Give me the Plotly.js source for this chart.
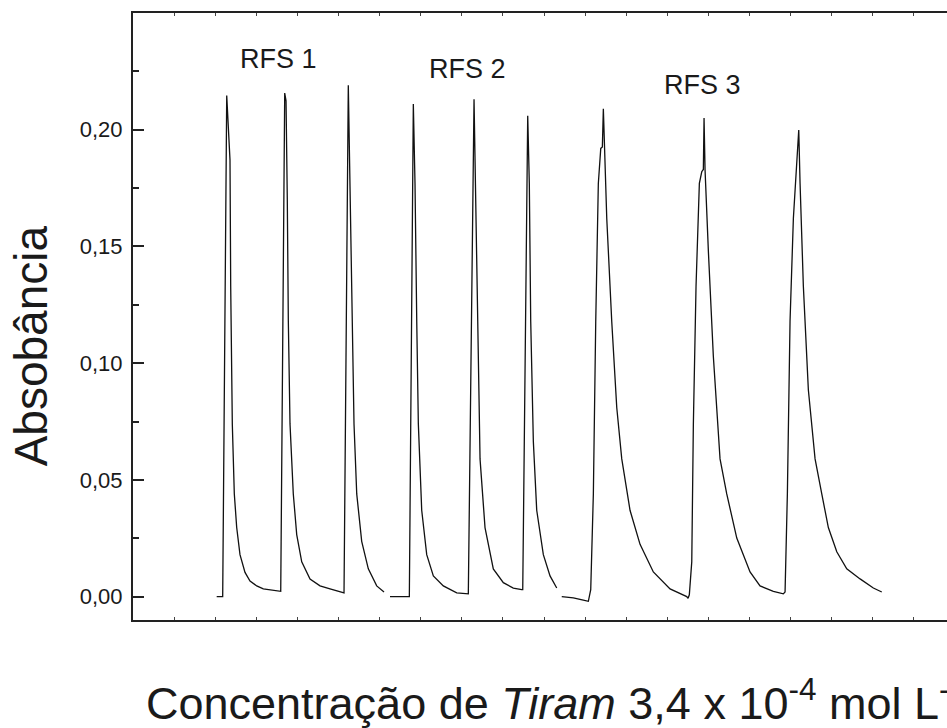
<!DOCTYPE html>
<html>
<head>
<meta charset="utf-8">
<script src="https://cdn.plot.ly/plotly-3.0.1.min.js"></script>
<style>
html,body{margin:0;padding:0;overflow:hidden;background:#fff;}
#chart{width:990px;height:728px;}
</style>
</head>
<body>
<div id="chart"></div>
<script>
// Time axis (arbitrary units, one minor tick = 10) and absorbance
const rfs1Time = [20.36, 21.82, 22.80, 23.43, 23.60, 23.77, 24.16, 24.65, 25.23, 26.03, 27.25, 28.47, 30.10, 31.70, 33.33, 35.77,
                  35.94, 36.91, 37.23, 37.54, 37.79, 38.20, 39.00, 39.83, 41.05, 43.07, 45.50, 47.93, 51.17,
                  51.34, 52.38, 52.80, 53.21, 53.77, 54.43, 55.64, 57.25, 59.29, 61.07];
const rfs1Abs  = [0.000, 0.000, 0.2147, 0.1885, 0.187, 0.133, 0.074, 0.044, 0.0296, 0.018, 0.0104, 0.0067, 0.0046, 0.0033, 0.0028, 0.0023,
                  0.0023, 0.2157, 0.2124, 0.170, 0.118, 0.074, 0.044, 0.0266, 0.0149, 0.0075, 0.0046, 0.0033, 0.0016,
                  0.0016, 0.2191, 0.177, 0.118, 0.074, 0.044, 0.0237, 0.0119, 0.0046, 0.0020];

const rfs2Time = [62.53, 66.98, 67.23, 68.20, 68.61, 69.03, 69.42, 70.24, 71.46, 73.07, 75.50, 78.76, 81.34,
                  81.58, 82.97, 83.45, 83.87, 84.43, 85.64, 87.66, 90.10, 92.53, 94.57,
                  94.82, 96.03, 96.42, 96.76, 97.40, 98.22, 99.83, 101.46, 103.09];
const rfs2Abs  = [0.000, 0.000, 0.000, 0.211, 0.177, 0.118, 0.074, 0.037, 0.018, 0.0089, 0.0046, 0.0016, 0.0012,
                  0.0012, 0.2131, 0.162, 0.103, 0.059, 0.0296, 0.0119, 0.0060, 0.0037, 0.0030,
                  0.0030, 0.206, 0.177, 0.118, 0.0664, 0.037, 0.018, 0.0089, 0.0037];

const rfs3Time = [104.31, 107.13, 109.56, 110.78, 111.36, 112.00, 112.58, 113.21, 113.80, 114.19, 114.43, 114.67, 115.26, 116.47, 117.69, 118.91, 120.92, 123.36, 126.59, 130.66, 134.72, 135.04,
                  135.35, 135.94, 136.33, 136.98, 137.79, 138.37, 138.76, 138.93, 139.17, 139.98, 141.19, 142.82, 144.45, 146.89, 150.12, 152.55, 155.79, 158.22,
                  158.64, 159.20, 159.85, 160.66, 161.97, 162.29, 163.09, 164.31, 165.94, 167.57, 169.17, 171.22, 173.65, 176.89, 180.12, 182.17];
const rfs3Abs  = [0.000, -0.0005, -0.0015, -0.002, 0.003, 0.044, 0.118, 0.177, 0.192, 0.1926, 0.209, 0.192, 0.162, 0.118, 0.081, 0.059, 0.037, 0.0224, 0.0106, 0.0033, 0.000, -0.0007,
                  0.0008, 0.0149, 0.074, 0.133, 0.177, 0.182, 0.183, 0.205, 0.183, 0.148, 0.103, 0.059, 0.044, 0.0251, 0.0106, 0.0046, 0.0023, 0.0012,
                  0.002, 0.044, 0.118, 0.162, 0.1999, 0.177, 0.133, 0.0885, 0.059, 0.044, 0.0296, 0.0192, 0.0119, 0.0076, 0.0037, 0.0020];

const groupLabels = ["RFS 1", "RFS 2", "RFS 3"];
const yTickVals = [0, 0.05, 0.10, 0.15, 0.20];

const FONT = "Liberation Sans, Arial, Helvetica, sans-serif";
const lineStyle = {color: "#111", width: 1.3};

const traces = [
  {x: rfs1Time, y: rfs1Abs, type: "scatter", mode: "lines", line: lineStyle, hoverinfo: "skip"},
  {x: rfs2Time, y: rfs2Abs, type: "scatter", mode: "lines", line: lineStyle, hoverinfo: "skip"},
  {x: rfs3Time, y: rfs3Abs, type: "scatter", mode: "lines", line: lineStyle, hoverinfo: "skip"}
];

const labelPos = [[35.5, 0.2303], [81.3, 0.2262], [138.6, 0.2191]];

const layout = {
  width: 990, height: 728,
  margin: {l: 133, r: 30, t: 13, b: 108, pad: 0},
  paper_bgcolor: "#fff", plot_bgcolor: "#fff",
  showlegend: false,
  separators: ",.",
  font: {family: FONT, color: "#1a1a1a"},
  xaxis: {
    range: [0, 201.2], showgrid: false, zeroline: false,
    showline: true, linewidth: 2, linecolor: "#222", mirror: "ticks",
    ticks: "inside", ticklen: 3, tickwidth: 1, tickcolor: "#444",
    tick0: 0, dtick: 10, showticklabels: false
  },
  yaxis: {
    range: [-0.01, 0.25], showgrid: false, zeroline: false,
    showline: true, linewidth: 2, linecolor: "#222", mirror: "ticks",
    ticks: "inside", ticklen: 11, tickwidth: 2, tickcolor: "#222",
    tickvals: yTickVals, tickformat: ".2f",
    ticklabelstandoff: 4,
    tickfont: {family: FONT, size: 22, color: "#1a1a1a"},
    minor: {ticks: "inside", ticklen: 6, tickwidth: 2, tickcolor: "#222", tick0: 0, dtick: 0.025}
  },
  annotations: groupLabels.map((t, i) => ({
    text: t, x: labelPos[i][0], y: labelPos[i][1], xref: "x", yref: "y",
    showarrow: false, xanchor: "center", yanchor: "middle",
    font: {family: FONT, size: 27, color: "#1a1a1a"}
  })).concat([
    {text: "Absobância", textangle: -90, xref: "paper", yref: "paper",
     x: (35 - 133) / 797, y: (620 - 346) / 607, xanchor: "center", yanchor: "middle",
     showarrow: false, font: {family: FONT, size: 46, color: "#1a1a1a"}},
    {text: "Concentração de <i>Tiram</i> 3,4 x 10<sup>-4</sup> mol L<sup>-1</sup>", xref: "paper", yref: "paper",
     x: (144 - 133) / 797, y: (620 - 700) / 607, xanchor: "left", yanchor: "middle",
     showarrow: false, font: {family: FONT, size: 45, color: "#1a1a1a"}}
  ])
};

Plotly.newPlot("chart", traces, layout, {displayModeBar: false, staticPlot: true});
</script>
</body>
</html>
